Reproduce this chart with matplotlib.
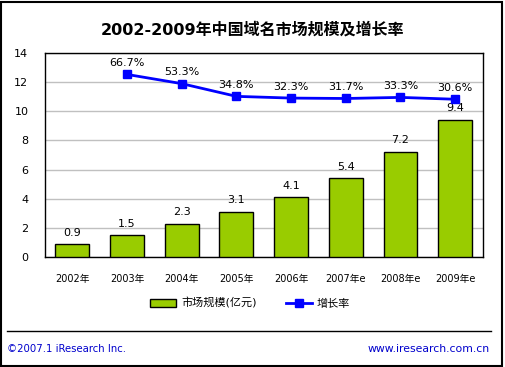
import matplotlib
matplotlib.use("Agg")
import matplotlib.pyplot as plt
from matplotlib.patches import Rectangle
from matplotlib.lines import Line2D

plt.rcParams['font.family'] = ['DejaVu Sans', 'Noto Sans CJK SC']

years = ['2002年', '2003年', '2004年', '2005年', '2006年', '2007年e', '2008年e', '2009年e']
market = [0.9, 1.5, 2.3, 3.1, 4.1, 5.4, 7.2, 9.4]
growth_years = ['2003年', '2004年', '2005年', '2006年', '2007年e', '2008年e', '2009年e']
growth = [66.7, 53.3, 34.8, 32.3, 31.7, 33.3, 30.6]
title = '2002-2009年中国域名市场规模及增长率'
bar_label = '市场规模(亿元)'
line_label = '增长率'

W, H = 505, 367
fig = plt.figure(figsize=(W / 100, H / 100), dpi=100)
ax = fig.add_axes([45 / W, 1 - 257.3 / H, (482.5 - 45) / W, (257.3 - 52.5) / H])

x = list(range(len(years)))
ax.bar(x, market, width=0.62, color='#99cc00', edgecolor='black', linewidth=1.0, zorder=3)
for xi, v in zip(x, market):
    ax.text(xi, v + 0.45, f'{v}', ha='center', va='bottom', fontsize=8, color='black')

ax.set_xlim(-0.5, len(years) - 0.5)
ax.set_ylim(0, 14)
ax.set_yticks(range(0, 15, 2))
ax.set_xticks(x)
ax.set_xticklabels(years, fontsize=7)
ax.tick_params(axis='both', length=0)
ax.tick_params(axis='y', labelsize=8, pad=12)
ax.tick_params(axis='x', pad=12)
ax.grid(axis='y', color='#c0c0c0', linewidth=1.0, zorder=0)
for s in ax.spines.values():
    s.set_linewidth(1.0)
    s.set_color('black')

ax2 = ax.twinx()
ax2.set_ylim(-199.3, 98.6)
ax2.axis('off')
gx = [years.index(g) for g in growth_years]
ax2.plot(gx, growth, color='#0000ff', linewidth=2, marker='s', markersize=6, zorder=5)
for xi, v in zip(gx, growth):
    ax2.text(xi, v + 9, f'{v}%', ha='center', va='bottom', fontsize=8, color='black')
ax2.set_xlim(-0.5, len(years) - 0.5)

fig.text(0.5, 1 - 30 / H, title, ha='center', va='center', fontsize=11.5, fontweight='bold',
         family=['DejaVu Sans', 'Noto Sans CJK SC'])

handles = [Rectangle((0, 0), 1, 1, facecolor='#99cc00', edgecolor='black', linewidth=1.0),
           Line2D([], [], color='#0000ff', linewidth=2, marker='s', markersize=6)]
fig.legend(handles, [bar_label, line_label], loc='center', bbox_to_anchor=(250 / W, 1 - 303 / H),
           ncol=2, frameon=False, fontsize=8, handlelength=2.35, columnspacing=2.6,
           handletextpad=0.45, borderaxespad=0, borderpad=0)

fig.add_artist(Line2D([7 / W, 491 / W], [1 - 331 / H, 1 - 331 / H], color='black', linewidth=1.0))
fig.text(7 / W, 1 - 349 / H, '©2007.1 iResearch Inc.', ha='left', va='center', fontsize=7.3, color='#0000cc')
fig.text(490 / W, 1 - 349 / H, 'www.iresearch.com.cn', ha='right', va='center', fontsize=7.8, color='#0000cc')

fig.add_artist(Rectangle((1 / W, 1.5 / H), (502 - 1) / W, (H - 3) / H, transform=fig.transFigure,
                         fill=False, edgecolor='black', linewidth=1.5))

fig.savefig('out.png', dpi=100)
